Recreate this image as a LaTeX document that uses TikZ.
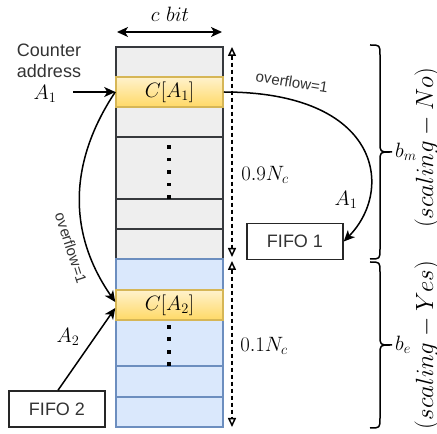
\documentclass[tikz,border=0pt]{standalone}
\usepackage{fontspec}
\newfontfamily\sansf{Liberation Sans}
\usetikzlibrary{arrows.meta}
\definecolor{grayfill}{HTML}{EEEEEE}
\definecolor{graystroke}{HTML}{36393D}
\definecolor{bluefill}{HTML}{DAE8FC}
\definecolor{bluestroke}{HTML}{6C8EBF}
\definecolor{yelstroke}{HTML}{D6B656}
\definecolor{yeltop}{HTML}{FFF2CC}
\definecolor{yelbot}{HTML}{FFD966}
\definecolor{txt}{HTML}{333333}
\begin{document}
\begin{tikzpicture}[x=1pt,y=1pt,
  cell/.style={rectangle, minimum width=107pt, inner sep=0pt, line width=1.5pt},
  grayrow/.style={cell, fill=grayfill, draw=graystroke},
  bluerow/.style={cell, fill=bluefill, draw=bluestroke},
  yelrow/.style={cell, draw=yelstroke, top color=yeltop, bottom color=yelbot},
  mathtxt/.style={font=\fontsize{21.5}{24}\selectfont, inner sep=0pt},
  bigmath/.style={font=\fontsize{23}{26}\selectfont, inner sep=0pt},
  sans/.style={font=\sansf\fontsize{18}{21}\selectfont, text=txt, inner sep=0pt},
  smallsans/.style={font=\sansf\fontsize{15}{18}\selectfont, text=txt, inner sep=0pt},
  fifo/.style={font=\sansf\fontsize{18}{21}\selectfont, text=txt, draw=black!85, line width=1.5pt, minimum width=96pt, minimum height=36pt, inner sep=0pt},
  arr/.style={-{Stealth[length=11pt,width=10pt,inset=3pt]}, line width=1.5pt},
  dblarr/.style={{Stealth[length=11pt,width=10pt,inset=3pt]}-{Stealth[length=11pt,width=10pt,inset=3pt]}, line width=1.5pt},
  dasharr/.style={{Triangle[open,length=9pt,width=8pt]}-{Triangle[open,length=9pt,width=8pt]}, dash pattern=on 4pt off 3pt, line width=1.5pt},
  bracestyle/.style={line width=1.5pt, line join=round}
]
\useasboundingbox (0,0) rectangle (437,434);

% memory column
\node[grayrow, minimum height=30pt] (g1) at (169.5,372) {};
\node[grayrow, minimum height=30pt] (g2) at (169.5,312) {};
\node[grayrow, minimum height=62pt] (gd) at (169.5,266) {};
\node[grayrow, minimum height=30pt] (g3) at (169.5,220) {};
\node[grayrow, minimum height=30pt] (g4) at (169.5,190) {};
\node[bluerow, minimum height=31pt] (b1) at (169.5,159.5) {};
\node[bluerow, minimum height=46pt] (bd) at (169.5,91) {};
\node[bluerow, minimum height=31pt] (b2) at (169.5,52.5) {};
\node[bluerow, minimum height=30pt] (b3) at (169.5,22) {};
\node[yelrow, minimum height=30pt, font=\fontsize{21.5}{24}\selectfont] (ca1) at (169.5,342) {$C[A_1]$};
\node[yelrow, minimum height=30pt, font=\fontsize{21.5}{24}\selectfont] (ca2) at (169.5,129) {$C[A_2]$};

% dots
\foreach \y in {287,274.5,262,249.5,237} \fill (167.3,\y-1.7) rectangle ++(3.4,3.4);
\foreach \y in {107,95,82,70} \fill (167.3,\y-1.7) rectangle ++(3.4,3.4);

% c bit
\coordinate (cl) at (117,402);
\coordinate (cr) at (222,402);
\draw[dblarr] (cl) -- (cr);
\node[mathtxt] (cbit) at (170,420) {$c\ bit$};

% counter address
\node[sans, align=center] (ctr) at (49,373) {Counter\\address};
\node[mathtxt] (a1in) at (45,340) {$A_1$};
\coordinate (a1start) at (73,342);
\draw[arr] (a1start) -- (ca1.west);

% FIFO boxes
\node[fifo] (fifo1) at (295,192.5) {FIFO 1};
\node[fifo] (fifo2) at (57,25) {FIFO 2};

% overflow right
\draw[arr] (ca1.east) .. controls (380,342) and (395,245) .. (fifo1.east);
\node[smallsans, rotate=-9] (ovr) at (292,352) {overflow=1};
\node[mathtxt] (a1r) at (346,234) {$A_1$};

% overflow left
\draw[arr] (ca1.west) .. controls (68,271) and (68,200) .. ([yshift=3pt]ca2.west);
\node[smallsans, rotate=-72] (ovl) at (71,186) {overflow=1};

% A2 arrow
\path (fifo2.north) ++(1pt,0) coordinate (f2top);
\draw[arr] (f2top) -- ([yshift=-3pt]ca2.west);
\node[mathtxt] (a2lab) at (68,97) {$A_2$};

% dashed size arrows
\coordinate (d1t) at (232,387);
\coordinate (d1b) at (232,177);
\coordinate (d2t) at (232,173);
\coordinate (d2b) at (232,7);
\draw[dasharr] (d1t) -- (d1b);
\draw[dasharr] (d2t) -- (d2b);
\node[mathtxt] (n09) at (265,259) {$0.9N_c$};
\node[mathtxt] (n01) at (264,88) {$0.1N_c$};

% braces
\draw[bracestyle] (370,389) .. controls (380,389) .. (380,379) -- (380,292) .. controls (380,282) .. (390,282) -- (392,282);
\draw[bracestyle] (390,282) .. controls (380,282) .. (380,272) -- (380,185) .. controls (380,175) .. (370,175);
\draw[bracestyle] (370,172) .. controls (380,172) .. (380,162) -- (380,99) .. controls (380,89) .. (390,89) -- (392,89);
\draw[bracestyle] (390,89) .. controls (380,89) .. (380,79) -- (380,16) .. controls (380,6) .. (370,6);
\node[mathtxt, anchor=west] (bm) at (395,282) {$b_m$};
\node[mathtxt, anchor=west] (be) at (395,89) {$b_e$};
\node[bigmath, rotate=90] (sno) at (427,286) {$(scaling-No)$};
\node[bigmath, rotate=90] (syes) at (427,89) {$(scaling-Yes)$};
\end{tikzpicture}
\end{document}
